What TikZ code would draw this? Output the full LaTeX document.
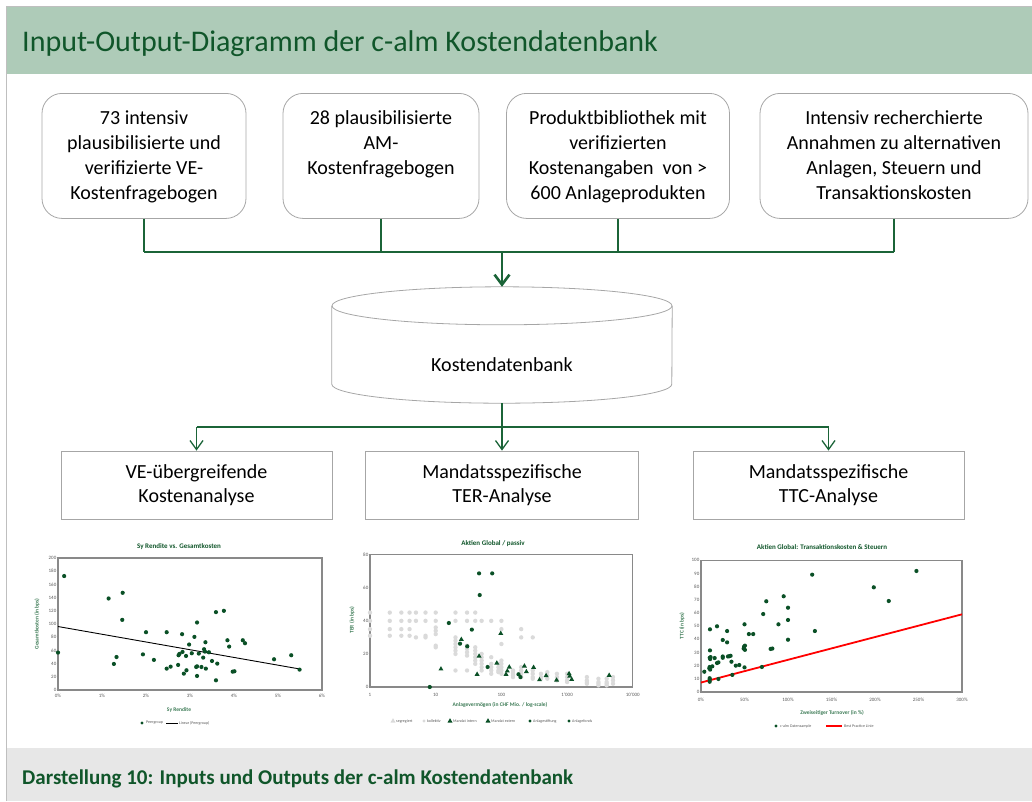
\documentclass[tikz,border=0pt]{standalone}
\usepackage{fontspec}
\setmainfont{Carlito}
\usepackage{tikz}
\usetikzlibrary{arrows.meta}
\usetikzlibrary{positioning}
\usetikzlibrary{calc}

\definecolor{barGreen}{RGB}{174,203,184}
\definecolor{darkGreen}{RGB}{16,86,42}
\definecolor{lineGreen}{RGB}{27,100,56}
\definecolor{boxGray}{RGB}{166,166,166}
\definecolor{frameGray}{RGB}{191,191,191}
\definecolor{footGray}{RGB}{231,231,231}
\definecolor{dotGreen}{RGB}{10,80,38}
\definecolor{dotGray}{RGB}{218,218,218}
\definecolor{axisGray}{RGB}{137,137,137}
\definecolor{tickGray}{RGB}{89,89,89}

\tikzset{input box/.style={draw=boxGray,
                           rounded corners=20pt,
                           line width=0.8pt,
                           minimum height=125pt,
                           inner sep=0pt,
                           anchor=north}}
\tikzset{output box/.style={draw=boxGray,
                            line width=0.8pt,
                            minimum height=68pt,
                            align=center,
                            font=\fontsize{20}{24}\selectfont}}
\tikzset{feed/.style={draw=lineGreen, line width=1.3pt}}
\tikzset{feed arrow/.style={feed, -{Straight Barb[length=9pt,width=13pt]}}}
\tikzset{plot frame/.style={draw=axisGray, line width=1.3pt}}
\tikzset{tick label/.style={font=\fontsize{5}{6}\selectfont, text=tickGray, inner sep=1.5pt}}
\tikzset{chart title/.style={font=\bfseries\fontsize{7}{8}\selectfont, text=darkGreen, inner sep=0pt}}
\tikzset{axis label/.style={font=\bfseries\fontsize{5.5}{6}\selectfont, text=lineGreen!85, inner sep=0pt}}
\tikzset{legend text/.style={font=\fontsize{4}{5}\selectfont, text=tickGray, anchor=west, inner sep=0pt}}
\newcommand{\boxlines}[2]{\parbox[t][90pt][t]{#1}{\centering\fontsize{20}{25}\selectfont #2}}
\newcommand{\tripoint}[2]{\fill[#1] #2 ++(0,2.8pt) -- ++(-2.5pt,-4.3pt) -- ++(5pt,0) -- cycle;}

\begin{document}
\begin{tikzpicture}[x=1pt,y=-1pt]
      \useasboundingbox (0,0) rectangle (1032,801);

      % frame, title and caption
      \draw [frameGray, line width=1pt] (6,801) -- (6,6) -- (1032,6);
      \fill [barGreen] (7,7) rectangle (1032,74);
      \fill [footGray] (7,748) rectangle (1032,801);
      \node [anchor=base west, inner sep=0pt, text=darkGreen,
             font=\fontsize{30}{32}\selectfont] (title) at (22,51)
            {Input-Output-Diagramm der c-alm Kostendatenbank};
      \node [anchor=base west, inner sep=0pt, text=darkGreen,
             font=\bfseries\fontsize{21}{23}\selectfont] (caption) at (22,784)
            {Darstellung 10: Inputs und Outputs der c-alm Kostendatenbank};

      % inputs
      \node [input box, minimum width=204pt] (in1) at (144,93)
            {\boxlines{204pt}{73 intensiv\\plausibilisierte und\\verifizierte VE-\\Kostenfragebogen}};
      \node [input box, minimum width=196pt] (in2) at (381,93)
            {\boxlines{196pt}{28 plausibilisierte\\AM-\\Kostenfragebogen}};
      \node [input box, minimum width=223pt] (in3) at (618,93)
            {\boxlines{223pt}{Produktbibliothek mit\\verifizierten\\Kostenangaben~ von >\\600 Anlageprodukten}};
      \node [input box, minimum width=268pt] (in4) at (894,93)
            {\boxlines{268pt}{Intensiv recherchierte\\Annahmen zu alternativen\\Anlagen, Steuern und\\Transaktionskosten}};

      % database
      \node [minimum width=340pt, minimum height=116pt, inner sep=0pt] (db) at (502,345) {};
      \node [font=\fontsize{20}{24}\selectfont] (dbtext) at ([yshift=-20pt]db.center) {Kostendatenbank};
      \draw [boxGray, line width=0.8pt] ([yshift=-19pt]db.north) ellipse [x radius=170pt, y radius=19pt];
      \draw [boxGray, line width=0.8pt] ([yshift=-19pt]db.north west) -- ([yshift=19pt]db.south west)
      arc [start angle=180, end angle=360, x radius=170pt, y radius=19pt] -- ([yshift=-19pt]db.north east);

      % outputs
      \node [output box, minimum width=271pt] (out1) at (196.5,485) {VE-übergreifende\\Kostenanalyse};
      \node [output box, minimum width=273pt] (out2) at (502,485) {Mandatsspezifische\\TER-Analyse};
      \node [output box, minimum width=271pt] (out3) at (828.5,485) {Mandatsspezifische\\TTC-Analyse};

      % edges
      \coordinate (bus) at (502,252);
      \foreach \i in {1,...,4}
      {
      \draw [feed] (in\i.south) -- (in\i.south |- bus);
      }
      \draw [feed] (in1.south |- bus) -- (in4.south |- bus);
      \draw [feed, line width=2.6pt, -{Straight Barb[length=10pt,width=15pt]}] (bus) -- (db.north);

      \coordinate (split) at (502,427);
      \draw [feed] (db.south) -- (split);
      \draw [feed] (out1.north |- split) -- (out3.north |- split);
      \foreach \i in {1,2,3}
      {
      \draw [feed arrow] (out\i.north |- split) -- (out\i.north);
      }

      % chart 1: Sy Rendite vs. Gesamtkosten
      \node [chart title] (c1title) at (179,547) {Sy Rendite vs. Gesamtkosten};
      \node [axis label, rotate=90] (c1ylab) at (37,624) {Gesamtkosten (in bps)};
      \node [axis label] (c1xlab) at (179,710) {Sy Rendite};
      \begin{scope}[shift={(58pt,-690pt)}, x=44pt, y=0.66pt]
      \draw [plot frame] (0,0) rectangle (6,200);
      \foreach \v in {0,20,...,200}
      {
      \node [tick label, anchor=east] (c1y\v) at (0,\v) {\v};
      }
      \foreach \v in {0,...,6}
      {
      \node [tick label, anchor=north] (c1x\v) at (\v,-4) {\v\%};
      }
      \draw [black, line width=0.9pt] (0,96.2) -- (5.49,31.9);
      \foreach \px/\py in
      {0/56.7, 0.14/172.7, 1.15/138.7, 1.47/147.3, 1.46/106.3, 1.33/50, 1.27/39.5,
       1.93/54, 2.0/87.6, 2.18/45.6, 2.47/87.6, 2.47/32.4, 2.56/35.4, 2.82/84.6,
       2.74/52.7, 2.76/54.7, 2.73/38, 2.83/57.7, 2.86/24.8, 2.92/29.9, 2.91/51.6,
       2.98/68.9, 3.04/55.7, 3.10/80.5, 3.16/102.3, 3.14/34.9, 3.16/35.9, 3.16/21.3,
       3.20/55.2, 3.26/34.9, 3.30/49.1, 3.32/61.8, 3.34/58.2, 3.35/72.4, 3.36/32.4,
       3.43/57.2, 3.50/44, 3.62/40, 3.59/14.7, 3.59/118, 3.77/120, 3.85/75.4,
       3.89/65.8, 3.97/27.8, 4.01/28.4, 4.20/75.4, 4.25/70.9, 4.91/46.6, 5.30/52.7,
       5.49/30.9}
      {
      \fill [dotGreen] (\px,\py) circle [radius=2.1pt];
      }
      \end{scope}
      \fill [dotGreen] (142,723) circle [radius=1.6pt];
      \node [legend text] (c1leg1) at (146,723) {Peergroup};
      \draw [black, line width=0.8pt] (166,723) -- (178,723);
      \node [legend text] (c1leg2) at (179,723) {Linear (Peergroup)};

      % chart 2: Aktien Global / passiv
      \node [chart title] (c2title) at (493,544) {Aktien Global / passiv};
      \node [axis label, rotate=90] (c2ylab) at (352,620) {TER (in bps)};
      \node [axis label] (c2xlab) at (500,705) {Anlagevermögen (in CHF Mio. / log-scale)};
      \begin{scope}[shift={(370pt,-687pt)}, x=65.7pt, y=1.654pt]
      \draw [plot frame] (0,0) rectangle (4,80);
      \foreach \v in {0,20,...,80}
      {
      \node [tick label, anchor=east] (c2y\v) at (0,\v) {\v};
      }
      \node [tick label, anchor=north] (c2x0) at (0,-2.5) {1};
      \node [tick label, anchor=north] (c2x1) at (1,-2.5) {10};
      \node [tick label, anchor=north] (c2x2) at (2,-2.5) {100};
      \node [tick label, anchor=north] (c2x3) at (3,-2.5) {1'000};
      \node [tick label, anchor=north] (c2x4) at (4,-2.5) {10'000};
      \foreach \lx/\ys in
      {0/{45,40,35,31}, 0.301/{45,40,35,31}, 0.477/{45,40,35,31}, 0.602/{45,40,35,31},
       0.699/{45,40,30}, 0.845/{45,40,31,30}, 1/{45,40,36,34,32,25,24},
       1.301/{45,40,30,28,26,24,22,20,10}, 1.477/{45,40,25,23,21,19,10},
       1.602/{45,40,24,22,20,18,16,14}, 1.699/{40,20,18,16,14,12,10},
       1.845/{40,18,14,12,10,8}, 1.954/{14,12,10,9}, 2/{40,35,26,16,14,12,10,8},
       2.176/{10,9,8,7,6}, 2.301/{35,30,12,10,8,6}, 2.477/{30,10,8,6,5},
       2.602/{8,6,5}, 2.699/{9,7,5}, 2.845/{8,6,4}, 3/{8,6,4,3}, 3.301/{6,4,3,2},
       3.477/{5,3,2,1}, 3.602/{5,3,2,1}, 3.699/{6,4,2}}
      {
      \foreach \ly in \ys
      {
      \fill [dotGray] (\lx,\ly) circle [radius=2.2pt];
      }
      }
      \foreach \px/\py in
      {1.08/10.9, 1.39/28.8, 1.66/18.7, 1.93/14.5, 1.99/32.4, 2.07/7.7, 2.09/9.7,
       2.12/12.1, 1.63/7.7, 2.35/12.7, 2.38/9.3, 2.49/11.9, 2.58/4.4, 2.68/6.9,
       2.84/4.2, 3.03/8.1, 3.04/6.6, 3.07/4.6, 3.64/7.1}
      {
      \tripoint{dotGreen}{(\px,\py)}
      }
      \foreach \px/\py in
      {1.66/68.7, 1.86/68.7, 1.67/55.6, 1.20/38.7, 1.55/34.7, 1.37/26.2, 1.48/24.6,
       1.79/12.1, 2.26/7.7, 2.29/6, 0.91/0}
      {
      \fill [dotGreen] (\px,\py) circle [radius=2.1pt];
      }
      \end{scope}
      \tripoint{dotGray}{(393,721)}
      \node [legend text] (c2leg1) at (396,721) {segregiert};
      \fill [dotGray] (424,721) circle [radius=1.6pt];
      \node [legend text] (c2leg2) at (427,721) {kollektiv};
      \tripoint{dotGreen}{(450,721)}
      \node [legend text] (c2leg3) at (453,721) {Mandat intern};
      \tripoint{dotGreen}{(488,721)}
      \node [legend text] (c2leg4) at (491,721) {Mandat extern};
      \fill [dotGreen] (530,721) circle [radius=1.6pt];
      \node [legend text] (c2leg5) at (533,721) {Anlagestiftung};
      \fill [dotGreen] (569,721) circle [radius=1.6pt];
      \node [legend text] (c2leg6) at (572,721) {Anlagefonds};

      % chart 3: Transaktionskosten & Steuern
      \node [chart title] (c3title) at (822,547) {Aktien Global: Transaktionskosten \& Steuern};
      \node [axis label, rotate=90] (c3ylab) at (682,626) {TTC (in bps)};
      \node [axis label] (c3xlab) at (832,713) {Zweiseitiger Turnover (in \%)};
      \begin{scope}[shift={(701pt,-692pt)}, x=0.87pt, y=1.317pt]
      \draw [plot frame] (0,0) rectangle (300,100);
      \foreach \v in {0,10,...,100}
      {
      \node [tick label, anchor=east] (c3y\v) at (0,\v) {\v};
      }
      \foreach \v in {0,50,...,300}
      {
      \node [tick label, anchor=north] (c3x\v) at (\v,-3) {\v\%};
      }
      \draw [red, line width=1.8pt] (0,7.2) -- (300,59);
      \foreach \px/\py in
      {3.8/15.4, 10.3/47.6, 10.3/31.6, 10/26, 10.5/25, 11/26.5, 9.5/18, 10.5/17,
       10/19, 10/10.5, 10/9.5, 10/7.8, 15.7/25.8, 13/19.5, 18.4/49.9, 18.4/22,
       20/22.5, 20/9.9, 25/39.5, 25/27, 25/26, 30/46.3, 30/37.7, 31/27, 32.5/27.2,
       34/27.5, 35/23, 36/13, 40/20, 44/20.5, 50/51.4, 49/33, 49.5/34.5, 50.5/32,
       50.5/35.2, 50/18.7, 55/44, 60/44, 70/19, 71.5/59.2, 75/68.9, 80/32.7,
       82/33, 89/51.4, 95/72.7, 100/64, 100/54.7, 100/39.7, 127.8/89.1, 130.9/46.3,
       198.6/79.5, 215.8/69.1, 247.6/91.9}
      {
      \fill [dotGreen] (\px,\py) circle [radius=2.1pt];
      }
      \end{scope}
      \fill [dotGreen] (776,726) circle [radius=1.6pt];
      \node [legend text] (c3leg1) at (780,726) {c-alm Datensample};
      \draw [red, line width=1.2pt] (826,726) -- (842,726);
      \node [legend text] (c3leg2) at (844,726) {Best Practice Linie};

    \end{tikzpicture}
\end{document}
